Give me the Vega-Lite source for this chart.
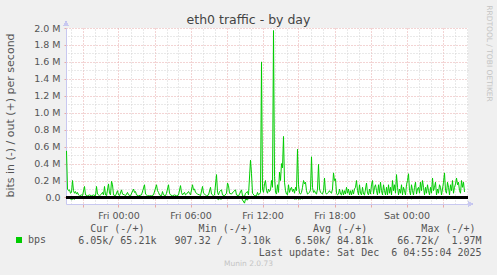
{
  "$schema": "https://vega.github.io/schema/vega-lite/v6.json",
  "width": 402,
  "height": 176,
  "autosize": "none",
  "padding": {"left": 66, "top": 28, "right": 29, "bottom": 71},
  "background": "#f0f0f0",
  "config": {
    "view": {"fill": "#ffffff", "stroke": null},
    "font": "DejaVu Sans"
  },
  "title": {
    "text": "eth0 traffic - by day",
    "anchor": "middle",
    "frame": "group",
    "dx": -18.5,
    "dy": 28,
    "offset": 6,
    "fontSize": 12.5,
    "fontWeight": "normal",
    "color": "#444444"
  },
  "data": {
    "values": [
      {"t":"2025-12-04T19:40:00Z","o":0.55,"i":-0.006},
      {"t":"2025-12-04T19:45:00Z","o":0.10,"i":-0.006},
      {"t":"2025-12-04T19:50:00Z","o":0.08,"i":-0.006},
      {"t":"2025-12-04T19:55:00Z","o":0.09,"i":-0.006},
      {"t":"2025-12-04T20:00:00Z","o":0.05,"i":-0.02},
      {"t":"2025-12-04T20:05:00Z","o":0.06,"i":-0.025},
      {"t":"2025-12-04T20:10:00Z","o":0.20,"i":-0.02},
      {"t":"2025-12-04T20:15:00Z","o":0.08,"i":-0.015},
      {"t":"2025-12-04T20:20:00Z","o":0.05,"i":-0.02},
      {"t":"2025-12-04T20:25:00Z","o":0.07,"i":-0.01},
      {"t":"2025-12-04T20:30:00Z","o":0.04,"i":-0.006},
      {"t":"2025-12-04T20:35:00Z","o":0.06,"i":-0.006},
      {"t":"2025-12-04T20:40:00Z","o":0.03,"i":-0.006},
      {"t":"2025-12-04T20:45:00Z","o":0.02,"i":-0.006},
      {"t":"2025-12-04T20:55:00Z","o":0.03,"i":-0.006},
      {"t":"2025-12-04T21:00:00Z","o":0.02,"i":-0.006},
      {"t":"2025-12-04T21:10:00Z","o":0.13,"i":-0.006},
      {"t":"2025-12-04T21:15:00Z","o":0.03,"i":-0.006},
      {"t":"2025-12-04T21:25:00Z","o":0.02,"i":-0.006},
      {"t":"2025-12-04T21:35:00Z","o":0.03,"i":-0.01},
      {"t":"2025-12-04T21:45:00Z","o":0.02,"i":-0.006},
      {"t":"2025-12-04T21:55:00Z","o":0.03,"i":-0.006},
      {"t":"2025-12-04T22:05:00Z","o":0.02,"i":-0.006},
      {"t":"2025-12-04T22:10:00Z","o":0.13,"i":-0.006},
      {"t":"2025-12-04T22:15:00Z","o":0.04,"i":-0.006},
      {"t":"2025-12-04T22:25:00Z","o":0.02,"i":-0.006},
      {"t":"2025-12-04T22:35:00Z","o":0.04,"i":-0.006},
      {"t":"2025-12-04T22:40:00Z","o":0.06,"i":-0.006},
      {"t":"2025-12-04T22:45:00Z","o":0.03,"i":-0.006},
      {"t":"2025-12-04T22:50:00Z","o":0.13,"i":-0.006},
      {"t":"2025-12-04T22:55:00Z","o":0.03,"i":-0.006},
      {"t":"2025-12-04T23:00:00Z","o":0.02,"i":-0.006},
      {"t":"2025-12-04T23:10:00Z","o":0.16,"i":-0.006},
      {"t":"2025-12-04T23:15:00Z","o":0.05,"i":-0.006},
      {"t":"2025-12-04T23:20:00Z","o":0.03,"i":-0.006},
      {"t":"2025-12-04T23:25:00Z","o":0.19,"i":-0.006},
      {"t":"2025-12-04T23:30:00Z","o":0.15,"i":-0.006},
      {"t":"2025-12-04T23:35:00Z","o":0.03,"i":-0.006},
      {"t":"2025-12-04T23:45:00Z","o":0.02,"i":-0.006},
      {"t":"2025-12-04T23:55:00Z","o":0.08,"i":-0.006},
      {"t":"2025-12-05T00:00:00Z","o":0.03,"i":-0.006},
      {"t":"2025-12-05T00:05:00Z","o":0.02,"i":-0.006},
      {"t":"2025-12-05T00:15:00Z","o":0.09,"i":-0.006},
      {"t":"2025-12-05T00:20:00Z","o":0.04,"i":-0.006},
      {"t":"2025-12-05T00:30:00Z","o":0.03,"i":-0.006},
      {"t":"2025-12-05T00:35:00Z","o":0.02,"i":-0.006},
      {"t":"2025-12-05T00:45:00Z","o":0.06,"i":-0.006},
      {"t":"2025-12-05T00:50:00Z","o":0.03,"i":-0.006},
      {"t":"2025-12-05T01:00:00Z","o":0.02,"i":-0.006},
      {"t":"2025-12-05T01:15:00Z","o":0.10,"i":-0.006},
      {"t":"2025-12-05T01:20:00Z","o":0.06,"i":-0.006},
      {"t":"2025-12-05T01:25:00Z","o":0.07,"i":-0.006},
      {"t":"2025-12-05T01:30:00Z","o":0.03,"i":-0.006},
      {"t":"2025-12-05T01:40:00Z","o":0.02,"i":-0.006},
      {"t":"2025-12-05T01:55:00Z","o":0.03,"i":-0.006},
      {"t":"2025-12-05T02:10:00Z","o":0.15,"i":-0.006},
      {"t":"2025-12-05T02:15:00Z","o":0.04,"i":-0.006},
      {"t":"2025-12-05T02:25:00Z","o":0.02,"i":-0.006},
      {"t":"2025-12-05T02:35:00Z","o":0.02,"i":-0.006},
      {"t":"2025-12-05T02:45:00Z","o":0.02,"i":-0.006},
      {"t":"2025-12-05T02:55:00Z","o":0.03,"i":-0.015},
      {"t":"2025-12-05T03:10:00Z","o":0.15,"i":-0.006},
      {"t":"2025-12-05T03:15:00Z","o":0.08,"i":-0.006},
      {"t":"2025-12-05T03:20:00Z","o":0.06,"i":-0.006},
      {"t":"2025-12-05T03:25:00Z","o":0.03,"i":-0.006},
      {"t":"2025-12-05T03:35:00Z","o":0.02,"i":-0.006},
      {"t":"2025-12-05T03:40:00Z","o":0.07,"i":-0.006},
      {"t":"2025-12-05T03:45:00Z","o":0.03,"i":-0.006},
      {"t":"2025-12-05T03:55:00Z","o":0.02,"i":-0.006},
      {"t":"2025-12-05T04:00:00Z","o":0.05,"i":-0.006},
      {"t":"2025-12-05T04:10:00Z","o":0.15,"i":-0.006},
      {"t":"2025-12-05T04:15:00Z","o":0.05,"i":-0.006},
      {"t":"2025-12-05T04:20:00Z","o":0.03,"i":-0.006},
      {"t":"2025-12-05T04:30:00Z","o":0.02,"i":-0.006},
      {"t":"2025-12-05T04:40:00Z","o":0.03,"i":-0.006},
      {"t":"2025-12-05T04:50:00Z","o":0.02,"i":-0.006},
      {"t":"2025-12-05T05:00:00Z","o":0.03,"i":-0.006},
      {"t":"2025-12-05T05:10:00Z","o":0.14,"i":-0.006},
      {"t":"2025-12-05T05:15:00Z","o":0.06,"i":-0.006},
      {"t":"2025-12-05T05:20:00Z","o":0.03,"i":-0.006},
      {"t":"2025-12-05T05:30:00Z","o":0.06,"i":-0.006},
      {"t":"2025-12-05T05:35:00Z","o":0.03,"i":-0.006},
      {"t":"2025-12-05T05:40:00Z","o":0.04,"i":-0.006},
      {"t":"2025-12-05T05:50:00Z","o":0.07,"i":-0.006},
      {"t":"2025-12-05T05:55:00Z","o":0.05,"i":-0.006},
      {"t":"2025-12-05T06:00:00Z","o":0.03,"i":-0.006},
      {"t":"2025-12-05T06:10:00Z","o":0.15,"i":-0.006},
      {"t":"2025-12-05T06:15:00Z","o":0.09,"i":-0.006},
      {"t":"2025-12-05T06:20:00Z","o":0.10,"i":-0.006},
      {"t":"2025-12-05T06:25:00Z","o":0.06,"i":-0.006},
      {"t":"2025-12-05T06:35:00Z","o":0.04,"i":-0.006},
      {"t":"2025-12-05T06:45:00Z","o":0.03,"i":-0.006},
      {"t":"2025-12-05T06:50:00Z","o":0.02,"i":-0.006},
      {"t":"2025-12-05T07:00:00Z","o":0.13,"i":-0.006},
      {"t":"2025-12-05T07:05:00Z","o":0.05,"i":-0.006},
      {"t":"2025-12-05T07:15:00Z","o":0.03,"i":-0.006},
      {"t":"2025-12-05T07:20:00Z","o":0.02,"i":-0.006},
      {"t":"2025-12-05T07:30:00Z","o":0.03,"i":-0.006},
      {"t":"2025-12-05T07:40:00Z","o":0.12,"i":-0.006},
      {"t":"2025-12-05T07:45:00Z","o":0.04,"i":-0.006},
      {"t":"2025-12-05T07:55:00Z","o":0.02,"i":-0.006},
      {"t":"2025-12-05T08:00:00Z","o":0.03,"i":-0.006},
      {"t":"2025-12-05T08:10:00Z","o":0.27,"i":-0.006},
      {"t":"2025-12-05T08:15:00Z","o":0.06,"i":-0.02},
      {"t":"2025-12-05T08:20:00Z","o":0.03,"i":-0.025},
      {"t":"2025-12-05T08:25:00Z","o":0.07,"i":-0.015},
      {"t":"2025-12-05T08:35:00Z","o":0.09,"i":-0.02},
      {"t":"2025-12-05T08:40:00Z","o":0.03,"i":-0.006},
      {"t":"2025-12-05T08:50:00Z","o":0.02,"i":-0.006},
      {"t":"2025-12-05T09:00:00Z","o":0.05,"i":-0.006},
      {"t":"2025-12-05T09:05:00Z","o":0.17,"i":-0.006},
      {"t":"2025-12-05T09:10:00Z","o":0.14,"i":-0.006},
      {"t":"2025-12-05T09:15:00Z","o":0.05,"i":-0.006},
      {"t":"2025-12-05T09:25:00Z","o":0.04,"i":-0.006},
      {"t":"2025-12-05T09:35:00Z","o":0.07,"i":-0.006},
      {"t":"2025-12-05T09:45:00Z","o":0.09,"i":-0.006},
      {"t":"2025-12-05T09:50:00Z","o":0.03,"i":-0.006},
      {"t":"2025-12-05T10:00:00Z","o":0.02,"i":-0.006},
      {"t":"2025-12-05T10:05:00Z","o":0.04,"i":-0.006},
      {"t":"2025-12-05T10:15:00Z","o":0.09,"i":-0.006},
      {"t":"2025-12-05T10:20:00Z","o":0.02,"i":-0.03},
      {"t":"2025-12-05T10:30:00Z","o":0.01,"i":-0.067},
      {"t":"2025-12-05T10:35:00Z","o":0.05,"i":-0.02},
      {"t":"2025-12-05T10:45:00Z","o":0.07,"i":-0.03},
      {"t":"2025-12-05T10:50:00Z","o":0.03,"i":-0.006},
      {"t":"2025-12-05T11:00:00Z","o":0.44,"i":-0.006},
      {"t":"2025-12-05T11:05:00Z","o":0.28,"i":-0.006},
      {"t":"2025-12-05T11:10:00Z","o":0.05,"i":-0.006},
      {"t":"2025-12-05T11:20:00Z","o":0.02,"i":-0.006},
      {"t":"2025-12-05T11:30:00Z","o":0.02,"i":-0.006},
      {"t":"2025-12-05T11:35:00Z","o":0.06,"i":-0.006},
      {"t":"2025-12-05T11:40:00Z","o":0.03,"i":-0.006},
      {"t":"2025-12-05T11:45:00Z","o":0.04,"i":-0.006},
      {"t":"2025-12-05T11:50:00Z","o":0.06,"i":-0.006},
      {"t":"2025-12-05T11:55:00Z","o":1.60,"i":-0.006},
      {"t":"2025-12-05T12:00:00Z","o":0.10,"i":-0.006},
      {"t":"2025-12-05T12:05:00Z","o":0.06,"i":-0.006},
      {"t":"2025-12-05T12:10:00Z","o":0.16,"i":-0.006},
      {"t":"2025-12-05T12:15:00Z","o":0.20,"i":-0.006},
      {"t":"2025-12-05T12:20:00Z","o":0.08,"i":-0.006},
      {"t":"2025-12-05T12:25:00Z","o":0.05,"i":-0.006},
      {"t":"2025-12-05T12:30:00Z","o":0.10,"i":-0.006},
      {"t":"2025-12-05T12:35:00Z","o":0.07,"i":-0.006},
      {"t":"2025-12-05T12:40:00Z","o":0.09,"i":-0.006},
      {"t":"2025-12-05T12:45:00Z","o":0.20,"i":-0.006},
      {"t":"2025-12-05T12:50:00Z","o":0.12,"i":-0.006},
      {"t":"2025-12-05T12:55:00Z","o":1.97,"i":-0.006},
      {"t":"2025-12-05T13:00:00Z","o":0.25,"i":-0.006},
      {"t":"2025-12-05T13:05:00Z","o":0.06,"i":-0.006},
      {"t":"2025-12-05T13:10:00Z","o":0.04,"i":-0.006},
      {"t":"2025-12-05T13:15:00Z","o":0.15,"i":-0.006},
      {"t":"2025-12-05T13:20:00Z","o":0.06,"i":-0.006},
      {"t":"2025-12-05T13:25:00Z","o":0.30,"i":-0.006},
      {"t":"2025-12-05T13:30:00Z","o":0.20,"i":-0.006},
      {"t":"2025-12-05T13:35:00Z","o":0.40,"i":-0.006},
      {"t":"2025-12-05T13:40:00Z","o":0.35,"i":-0.006},
      {"t":"2025-12-05T13:45:00Z","o":0.72,"i":-0.006},
      {"t":"2025-12-05T13:50:00Z","o":0.18,"i":-0.006},
      {"t":"2025-12-05T13:55:00Z","o":0.08,"i":-0.006},
      {"t":"2025-12-05T14:00:00Z","o":0.04,"i":-0.006},
      {"t":"2025-12-05T14:05:00Z","o":0.03,"i":-0.006},
      {"t":"2025-12-05T14:10:00Z","o":0.15,"i":-0.006},
      {"t":"2025-12-05T14:15:00Z","o":0.06,"i":-0.006},
      {"t":"2025-12-05T14:20:00Z","o":0.10,"i":-0.006},
      {"t":"2025-12-05T14:25:00Z","o":0.12,"i":-0.006},
      {"t":"2025-12-05T14:30:00Z","o":0.07,"i":-0.006},
      {"t":"2025-12-05T14:35:00Z","o":0.10,"i":-0.006},
      {"t":"2025-12-05T14:40:00Z","o":0.05,"i":-0.02},
      {"t":"2025-12-05T14:45:00Z","o":0.12,"i":-0.015},
      {"t":"2025-12-05T14:50:00Z","o":0.08,"i":-0.02},
      {"t":"2025-12-05T14:55:00Z","o":0.57,"i":-0.006},
      {"t":"2025-12-05T15:00:00Z","o":0.15,"i":-0.02},
      {"t":"2025-12-05T15:05:00Z","o":0.05,"i":-0.015},
      {"t":"2025-12-05T15:10:00Z","o":0.04,"i":-0.02},
      {"t":"2025-12-05T15:15:00Z","o":0.06,"i":-0.006},
      {"t":"2025-12-05T15:20:00Z","o":0.12,"i":-0.015},
      {"t":"2025-12-05T15:25:00Z","o":0.20,"i":-0.006},
      {"t":"2025-12-05T15:30:00Z","o":0.16,"i":-0.006},
      {"t":"2025-12-05T15:35:00Z","o":0.18,"i":-0.006},
      {"t":"2025-12-05T15:40:00Z","o":0.08,"i":-0.006},
      {"t":"2025-12-05T15:45:00Z","o":0.04,"i":-0.006},
      {"t":"2025-12-05T15:50:00Z","o":0.05,"i":-0.006},
      {"t":"2025-12-05T15:55:00Z","o":0.06,"i":-0.006},
      {"t":"2025-12-05T16:00:00Z","o":0.09,"i":-0.006},
      {"t":"2025-12-05T16:05:00Z","o":0.48,"i":-0.006},
      {"t":"2025-12-05T16:10:00Z","o":0.12,"i":-0.006},
      {"t":"2025-12-05T16:15:00Z","o":0.06,"i":-0.006},
      {"t":"2025-12-05T16:20:00Z","o":0.08,"i":-0.006},
      {"t":"2025-12-05T16:25:00Z","o":0.05,"i":-0.006},
      {"t":"2025-12-05T16:30:00Z","o":0.04,"i":-0.006},
      {"t":"2025-12-05T16:35:00Z","o":0.10,"i":-0.006},
      {"t":"2025-12-05T16:40:00Z","o":0.39,"i":-0.006},
      {"t":"2025-12-05T16:45:00Z","o":0.10,"i":-0.006},
      {"t":"2025-12-05T16:50:00Z","o":0.06,"i":-0.006},
      {"t":"2025-12-05T16:55:00Z","o":0.05,"i":-0.006},
      {"t":"2025-12-05T17:00:00Z","o":0.04,"i":-0.006},
      {"t":"2025-12-05T17:05:00Z","o":0.08,"i":-0.006},
      {"t":"2025-12-05T17:10:00Z","o":0.23,"i":-0.006},
      {"t":"2025-12-05T17:15:00Z","o":0.06,"i":-0.006},
      {"t":"2025-12-05T17:20:00Z","o":0.04,"i":-0.006},
      {"t":"2025-12-05T17:25:00Z","o":0.05,"i":-0.006},
      {"t":"2025-12-05T17:30:00Z","o":0.06,"i":-0.006},
      {"t":"2025-12-05T17:35:00Z","o":0.08,"i":-0.006},
      {"t":"2025-12-05T17:40:00Z","o":0.06,"i":-0.006},
      {"t":"2025-12-05T17:45:00Z","o":0.05,"i":-0.006},
      {"t":"2025-12-05T17:50:00Z","o":0.10,"i":-0.006},
      {"t":"2025-12-05T17:55:00Z","o":0.29,"i":-0.015},
      {"t":"2025-12-05T18:00:00Z","o":0.20,"i":-0.006},
      {"t":"2025-12-05T18:05:00Z","o":0.22,"i":-0.006},
      {"t":"2025-12-05T18:10:00Z","o":0.05,"i":-0.006},
      {"t":"2025-12-05T18:15:00Z","o":0.03,"i":-0.006},
      {"t":"2025-12-05T18:20:00Z","o":0.04,"i":-0.006},
      {"t":"2025-12-05T18:25:00Z","o":0.10,"i":-0.006},
      {"t":"2025-12-05T18:30:00Z","o":0.04,"i":-0.006},
      {"t":"2025-12-05T18:35:00Z","o":0.03,"i":-0.006},
      {"t":"2025-12-05T18:40:00Z","o":0.09,"i":-0.006},
      {"t":"2025-12-05T18:45:00Z","o":0.03,"i":-0.006},
      {"t":"2025-12-05T18:50:00Z","o":0.08,"i":-0.006},
      {"t":"2025-12-05T18:55:00Z","o":0.04,"i":-0.006},
      {"t":"2025-12-05T19:00:00Z","o":0.12,"i":-0.006},
      {"t":"2025-12-05T19:05:00Z","o":0.05,"i":-0.006},
      {"t":"2025-12-05T19:10:00Z","o":0.10,"i":-0.006},
      {"t":"2025-12-05T19:15:00Z","o":0.03,"i":-0.006},
      {"t":"2025-12-05T19:20:00Z","o":0.08,"i":-0.006},
      {"t":"2025-12-05T19:25:00Z","o":0.03,"i":-0.006},
      {"t":"2025-12-05T19:30:00Z","o":0.09,"i":-0.006},
      {"t":"2025-12-05T19:35:00Z","o":0.04,"i":-0.006},
      {"t":"2025-12-05T19:40:00Z","o":0.10,"i":-0.006},
      {"t":"2025-12-05T19:45:00Z","o":0.12,"i":-0.006},
      {"t":"2025-12-05T19:50:00Z","o":0.20,"i":-0.006},
      {"t":"2025-12-05T19:55:00Z","o":0.08,"i":-0.006},
      {"t":"2025-12-05T20:00:00Z","o":0.03,"i":-0.006},
      {"t":"2025-12-05T20:05:00Z","o":0.15,"i":-0.006},
      {"t":"2025-12-05T20:10:00Z","o":0.05,"i":-0.006},
      {"t":"2025-12-05T20:15:00Z","o":0.03,"i":-0.006},
      {"t":"2025-12-05T20:20:00Z","o":0.12,"i":-0.006},
      {"t":"2025-12-05T20:25:00Z","o":0.04,"i":-0.006},
      {"t":"2025-12-05T20:30:00Z","o":0.03,"i":-0.006},
      {"t":"2025-12-05T20:35:00Z","o":0.10,"i":-0.006},
      {"t":"2025-12-05T20:40:00Z","o":0.17,"i":-0.006},
      {"t":"2025-12-05T20:45:00Z","o":0.05,"i":-0.006},
      {"t":"2025-12-05T20:50:00Z","o":0.03,"i":-0.006},
      {"t":"2025-12-05T20:55:00Z","o":0.10,"i":-0.006},
      {"t":"2025-12-05T21:00:00Z","o":0.04,"i":-0.006},
      {"t":"2025-12-05T21:05:00Z","o":0.15,"i":-0.01},
      {"t":"2025-12-05T21:10:00Z","o":0.20,"i":-0.006},
      {"t":"2025-12-05T21:15:00Z","o":0.04,"i":-0.006},
      {"t":"2025-12-05T21:20:00Z","o":0.12,"i":-0.006},
      {"t":"2025-12-05T21:25:00Z","o":0.15,"i":-0.006},
      {"t":"2025-12-05T21:30:00Z","o":0.08,"i":-0.006},
      {"t":"2025-12-05T21:35:00Z","o":0.03,"i":-0.006},
      {"t":"2025-12-05T21:40:00Z","o":0.15,"i":-0.006},
      {"t":"2025-12-05T21:45:00Z","o":0.05,"i":-0.006},
      {"t":"2025-12-05T21:50:00Z","o":0.18,"i":-0.006},
      {"t":"2025-12-05T21:55:00Z","o":0.08,"i":-0.006},
      {"t":"2025-12-05T22:00:00Z","o":0.03,"i":-0.006},
      {"t":"2025-12-05T22:05:00Z","o":0.15,"i":-0.006},
      {"t":"2025-12-05T22:10:00Z","o":0.08,"i":-0.006},
      {"t":"2025-12-05T22:15:00Z","o":0.03,"i":-0.006},
      {"t":"2025-12-05T22:20:00Z","o":0.12,"i":-0.006},
      {"t":"2025-12-05T22:25:00Z","o":0.03,"i":-0.006},
      {"t":"2025-12-05T22:30:00Z","o":0.15,"i":-0.006},
      {"t":"2025-12-05T22:35:00Z","o":0.05,"i":-0.006},
      {"t":"2025-12-05T22:40:00Z","o":0.12,"i":-0.006},
      {"t":"2025-12-05T22:45:00Z","o":0.03,"i":-0.006},
      {"t":"2025-12-05T22:50:00Z","o":0.20,"i":-0.006},
      {"t":"2025-12-05T22:55:00Z","o":0.08,"i":-0.006},
      {"t":"2025-12-05T23:00:00Z","o":0.15,"i":-0.006},
      {"t":"2025-12-05T23:05:00Z","o":0.05,"i":-0.006},
      {"t":"2025-12-05T23:10:00Z","o":0.27,"i":-0.006},
      {"t":"2025-12-05T23:15:00Z","o":0.12,"i":-0.015},
      {"t":"2025-12-05T23:20:00Z","o":0.03,"i":-0.006},
      {"t":"2025-12-05T23:25:00Z","o":0.10,"i":-0.006},
      {"t":"2025-12-05T23:30:00Z","o":0.05,"i":-0.006},
      {"t":"2025-12-05T23:35:00Z","o":0.15,"i":-0.006},
      {"t":"2025-12-05T23:40:00Z","o":0.03,"i":-0.006},
      {"t":"2025-12-05T23:45:00Z","o":0.12,"i":-0.006},
      {"t":"2025-12-05T23:50:00Z","o":0.08,"i":-0.006},
      {"t":"2025-12-05T23:55:00Z","o":0.03,"i":-0.006},
      {"t":"2025-12-06T00:00:00Z","o":0.15,"i":-0.006},
      {"t":"2025-12-06T00:05:00Z","o":0.20,"i":-0.006},
      {"t":"2025-12-06T00:10:00Z","o":0.28,"i":-0.006},
      {"t":"2025-12-06T00:15:00Z","o":0.08,"i":-0.006},
      {"t":"2025-12-06T00:20:00Z","o":0.03,"i":-0.006},
      {"t":"2025-12-06T00:25:00Z","o":0.15,"i":-0.015},
      {"t":"2025-12-06T00:30:00Z","o":0.08,"i":-0.006},
      {"t":"2025-12-06T00:35:00Z","o":0.03,"i":-0.006},
      {"t":"2025-12-06T00:40:00Z","o":0.12,"i":-0.006},
      {"t":"2025-12-06T00:45:00Z","o":0.18,"i":-0.006},
      {"t":"2025-12-06T00:50:00Z","o":0.04,"i":-0.006},
      {"t":"2025-12-06T00:55:00Z","o":0.10,"i":-0.006},
      {"t":"2025-12-06T01:00:00Z","o":0.12,"i":-0.006},
      {"t":"2025-12-06T01:05:00Z","o":0.05,"i":-0.006},
      {"t":"2025-12-06T01:10:00Z","o":0.18,"i":-0.006},
      {"t":"2025-12-06T01:15:00Z","o":0.08,"i":-0.012},
      {"t":"2025-12-06T01:20:00Z","o":0.20,"i":-0.006},
      {"t":"2025-12-06T01:25:00Z","o":0.12,"i":-0.006},
      {"t":"2025-12-06T01:30:00Z","o":0.03,"i":-0.006},
      {"t":"2025-12-06T01:35:00Z","o":0.12,"i":-0.006},
      {"t":"2025-12-06T01:40:00Z","o":0.05,"i":-0.006},
      {"t":"2025-12-06T01:45:00Z","o":0.15,"i":-0.006},
      {"t":"2025-12-06T01:50:00Z","o":0.08,"i":-0.006},
      {"t":"2025-12-06T01:55:00Z","o":0.03,"i":-0.006},
      {"t":"2025-12-06T02:00:00Z","o":0.12,"i":-0.006},
      {"t":"2025-12-06T02:05:00Z","o":0.05,"i":-0.006},
      {"t":"2025-12-06T02:10:00Z","o":0.23,"i":-0.006},
      {"t":"2025-12-06T02:15:00Z","o":0.08,"i":-0.006},
      {"t":"2025-12-06T02:20:00Z","o":0.12,"i":-0.006},
      {"t":"2025-12-06T02:25:00Z","o":0.18,"i":-0.006},
      {"t":"2025-12-06T02:30:00Z","o":0.03,"i":-0.015},
      {"t":"2025-12-06T02:35:00Z","o":0.10,"i":-0.006},
      {"t":"2025-12-06T02:40:00Z","o":0.05,"i":-0.006},
      {"t":"2025-12-06T02:45:00Z","o":0.15,"i":-0.006},
      {"t":"2025-12-06T02:50:00Z","o":0.12,"i":-0.006},
      {"t":"2025-12-06T02:55:00Z","o":0.03,"i":-0.006},
      {"t":"2025-12-06T03:00:00Z","o":0.10,"i":-0.006},
      {"t":"2025-12-06T03:05:00Z","o":0.18,"i":-0.006},
      {"t":"2025-12-06T03:10:00Z","o":0.29,"i":-0.006},
      {"t":"2025-12-06T03:15:00Z","o":0.08,"i":-0.006},
      {"t":"2025-12-06T03:20:00Z","o":0.05,"i":-0.015},
      {"t":"2025-12-06T03:25:00Z","o":0.18,"i":-0.006},
      {"t":"2025-12-06T03:30:00Z","o":0.12,"i":-0.006},
      {"t":"2025-12-06T03:35:00Z","o":0.03,"i":-0.006},
      {"t":"2025-12-06T03:40:00Z","o":0.15,"i":-0.006},
      {"t":"2025-12-06T03:45:00Z","o":0.08,"i":-0.006},
      {"t":"2025-12-06T03:50:00Z","o":0.20,"i":-0.006},
      {"t":"2025-12-06T03:55:00Z","o":0.05,"i":-0.006},
      {"t":"2025-12-06T04:00:00Z","o":0.12,"i":-0.012},
      {"t":"2025-12-06T04:05:00Z","o":0.16,"i":-0.006},
      {"t":"2025-12-06T04:10:00Z","o":0.23,"i":-0.006},
      {"t":"2025-12-06T04:15:00Z","o":0.15,"i":-0.006},
      {"t":"2025-12-06T04:20:00Z","o":0.18,"i":-0.006},
      {"t":"2025-12-06T04:25:00Z","o":0.08,"i":-0.006},
      {"t":"2025-12-06T04:30:00Z","o":0.05,"i":-0.006},
      {"t":"2025-12-06T04:35:00Z","o":0.20,"i":-0.006},
      {"t":"2025-12-06T04:40:00Z","o":0.12,"i":-0.006},
      {"t":"2025-12-06T04:45:00Z","o":0.18,"i":-0.006},
      {"t":"2025-12-06T04:50:00Z","o":0.065,"i":-0.006}
    ]
  },
  "layer": [
    {
      "mark": {"type": "line", "strokeWidth": 1},
      "encoding": {
        "x": {
          "field": "t",
          "type": "temporal",
          "scale": {
            "type": "utc",
            "domain": [
              {"year": 2025, "month": 12, "date": 4, "hours": 19, "minutes": 37, "seconds": 30, "utc": true},
              {"year": 2025, "month": 12, "date": 6, "hours": 5, "minutes": 7, "seconds": 30, "utc": true}
            ]
          },
          "axis": {
            "orient": "bottom",
            "values": [
              {"year": 2025, "month": 12, "date": 4, "hours": 21, "utc": true},
              {"year": 2025, "month": 12, "date": 5, "hours": 0, "utc": true},
              {"year": 2025, "month": 12, "date": 5, "hours": 3, "utc": true},
              {"year": 2025, "month": 12, "date": 5, "hours": 6, "utc": true},
              {"year": 2025, "month": 12, "date": 5, "hours": 9, "utc": true},
              {"year": 2025, "month": 12, "date": 5, "hours": 12, "utc": true},
              {"year": 2025, "month": 12, "date": 5, "hours": 15, "utc": true},
              {"year": 2025, "month": 12, "date": 5, "hours": 18, "utc": true},
              {"year": 2025, "month": 12, "date": 5, "hours": 21, "utc": true},
              {"year": 2025, "month": 12, "date": 6, "hours": 0, "utc": true},
              {"year": 2025, "month": 12, "date": 6, "hours": 3, "utc": true}
            ],
            "labelExpr": "utchours(datum.value) % 6 === 0 ? utcFormat(datum.value, '%a %H:%M') : ''",
            "labelOverlap": false,
            "labelFlush": false,
            "labelFontSize": 9.5,
            "labelColor": "#555555",
            "labelPadding": 3,
            "tickSize": 3,
            "tickColor": "#e7a9a9",
            "domainColor": "#c8c8f0",
            "grid": true,
            "gridColor": "#e7a9a9",
            "gridDash": [1, 2],
            "title": [
              "\u200b\u00a0\u00a0Cur\u00a0(-/+)\u00a0\u00a0\u00a0\u00a0\u00a0\u00a0\u00a0\u00a0\u00a0Min\u00a0(-/+)\u00a0\u00a0\u00a0\u00a0\u00a0\u00a0\u00a0\u00a0\u00a0\u00a0Avg\u00a0(-/+)\u00a0\u00a0\u00a0\u00a0\u00a0\u00a0\u00a0\u00a0\u00a0Max\u00a0(-/+)",
              "6.05k/\u00a065.21k\u00a0\u00a0\u00a0907.32\u00a0/\u00a0\u00a0\u00a03.10k\u00a0\u00a0\u00a0\u00a06.50k/\u00a084.81k\u00a0\u00a0\u00a0\u00a066.72k/\u00a0\u00a01.97M",
              "\u200b\u00a0\u00a0\u00a0\u00a0\u00a0\u00a0\u00a0\u00a0\u00a0\u00a0\u00a0\u00a0\u00a0\u00a0\u00a0\u00a0\u00a0\u00a0\u00a0\u00a0\u00a0\u00a0\u00a0\u00a0\u00a0\u00a0\u00a0\u00a0\u00a0\u00a0Last\u00a0update:\u00a0Sat\u00a0Dec\u00a0\u00a06\u00a004:55:04\u00a02025"
            ],
            "titleX": 11.7,
            "titleY": 27,
            "titleAlign": "left",
            "titleBaseline": "alphabetic",
            "titleLineHeight": 12,
            "titleFont": "DejaVu Sans Mono",
            "titleFontSize": 10,
            "titleFontWeight": "normal",
            "titleColor": "#555555"
          }
        },
        "y": {
          "field": "i",
          "type": "quantitative",
          "scale": {"domain": [-0.077, 2.0], "nice": false, "zero": false},
          "axis": {
            "orient": "left",
            "values": [0, 0.2, 0.4, 0.6, 0.8, 1.0, 1.2, 1.4, 1.6, 1.8, 2.0],
            "labelExpr": "datum.value === 0 ? '0.0' : format(datum.value, '.1f') + ' M'",
            "labelFontSize": 9.5,
            "labelColor": "#555555",
            "labelPadding": 4,
            "labelOverlap": false,
            "labelFlush": false,
            "tickSize": 2,
            "tickColor": "#e7a9a9",
            "domainColor": "#c8c8f0",
            "grid": true,
            "gridColor": "#e7a9a9",
            "gridDash": [1, 2],
            "title": "bits in (-) / out (+) per second",
            "titleFontSize": 11,
            "titleFontWeight": "normal",
            "titleColor": "#555555",
            "titleAngle": 270,
            "titleX": -55.5,
            "titleY": 87,
            "titleAlign": "center",
            "titleBaseline": "middle"
          }
        },
        "color": {
          "datum": "bps",
          "scale": {"range": ["#00cc00"]},
          "legend": {
            "orient": "none",
            "legendX": -52,
            "legendY": 207,
            "title": null,
            "padding": 0,
            "symbolType": "square",
            "symbolSize": 36,
            "symbolFillColor": "#00cc00",
            "symbolStrokeColor": "#00cc00",
            "symbolStrokeWidth": 0,
            "labelFont": "DejaVu Sans Mono",
            "labelFontSize": 10,
            "labelColor": "#555555",
            "labelOffset": 4
          }
        }
      }
    },
    {
      "mark": {"type": "line", "strokeWidth": 1},
      "encoding": {
        "x": {
          "field": "t",
          "type": "temporal",
          "axis": {
            "orient": "top",
            "values": [
              {"year": 2025, "month": 12, "date": 4, "hours": 20, "utc": true},
              {"year": 2025, "month": 12, "date": 4, "hours": 22, "utc": true},
              {"year": 2025, "month": 12, "date": 4, "hours": 23, "utc": true},
              {"year": 2025, "month": 12, "date": 5, "hours": 1, "utc": true},
              {"year": 2025, "month": 12, "date": 5, "hours": 2, "utc": true},
              {"year": 2025, "month": 12, "date": 5, "hours": 4, "utc": true},
              {"year": 2025, "month": 12, "date": 5, "hours": 5, "utc": true},
              {"year": 2025, "month": 12, "date": 5, "hours": 7, "utc": true},
              {"year": 2025, "month": 12, "date": 5, "hours": 8, "utc": true},
              {"year": 2025, "month": 12, "date": 5, "hours": 10, "utc": true},
              {"year": 2025, "month": 12, "date": 5, "hours": 11, "utc": true},
              {"year": 2025, "month": 12, "date": 5, "hours": 13, "utc": true},
              {"year": 2025, "month": 12, "date": 5, "hours": 14, "utc": true},
              {"year": 2025, "month": 12, "date": 5, "hours": 16, "utc": true},
              {"year": 2025, "month": 12, "date": 5, "hours": 17, "utc": true},
              {"year": 2025, "month": 12, "date": 5, "hours": 19, "utc": true},
              {"year": 2025, "month": 12, "date": 5, "hours": 20, "utc": true},
              {"year": 2025, "month": 12, "date": 5, "hours": 22, "utc": true},
              {"year": 2025, "month": 12, "date": 5, "hours": 23, "utc": true},
              {"year": 2025, "month": 12, "date": 6, "hours": 1, "utc": true},
              {"year": 2025, "month": 12, "date": 6, "hours": 2, "utc": true},
              {"year": 2025, "month": 12, "date": 6, "hours": 4, "utc": true},
              {"year": 2025, "month": 12, "date": 6, "hours": 5, "utc": true}
            ],
            "domain": false,
            "ticks": false,
            "labels": false,
            "grid": true,
            "gridColor": "#d2d2d2",
            "gridDash": [1, 2],
            "title": "Munin 2.0.73",
            "titleX": 182,
            "titleY": 235,
            "titleAlign": "center",
            "titleBaseline": "middle",
            "titleFontSize": 7.5,
            "titleFontWeight": "normal",
            "titleColor": "#c4c4c4"
          }
        },
        "y": {
          "field": "o",
          "type": "quantitative",
          "axis": {
            "orient": "right",
            "values": [0.1, 0.3, 0.5, 0.7, 0.9, 1.1, 1.3, 1.5, 1.7, 1.9],
            "domain": false,
            "ticks": false,
            "labels": false,
            "grid": true,
            "gridColor": "#d2d2d2",
            "gridDash": [1, 2],
            "title": "RRDTOOL / TOBI OETIKER",
            "titleAngle": 90,
            "titleX": 20,
            "titleY": 25,
            "titleAlign": "center",
            "titleBaseline": "middle",
            "titleFontSize": 7.5,
            "titleFontWeight": "normal",
            "titleColor": "#c4c4c4"
          }
        },
        "color": {"datum": "bps"}
      }
    },
    {
      "mark": {"type": "rule", "color": "#000000", "strokeWidth": 1.5},
      "encoding": {"y": {"datum": 0, "type": "quantitative", "axis": null}}
    },
    {
      "mark": {"type": "point", "shape": "triangle-up", "filled": true, "size": 20, "color": "#c8c8f0", "opacity": 1},
      "encoding": {
        "x": {"datum": {"year": 2025, "month": 12, "date": 4, "hours": 19, "minutes": 37, "seconds": 30, "utc": true}, "type": "temporal", "axis": null},
        "y": {"datum": 2.05, "type": "quantitative", "axis": null}
      }
    },
    {
      "mark": {"type": "point", "shape": "triangle-right", "filled": true, "size": 20, "color": "#c8c8f0", "opacity": 1},
      "encoding": {
        "x": {"datum": {"year": 2025, "month": 12, "date": 6, "hours": 5, "minutes": 20, "utc": true}, "type": "temporal", "axis": null},
        "y": {"datum": -0.077, "type": "quantitative", "axis": null}
      }
    }
  ],
  "resolve": {"axis": {"x": "independent", "y": "independent"}}
}
